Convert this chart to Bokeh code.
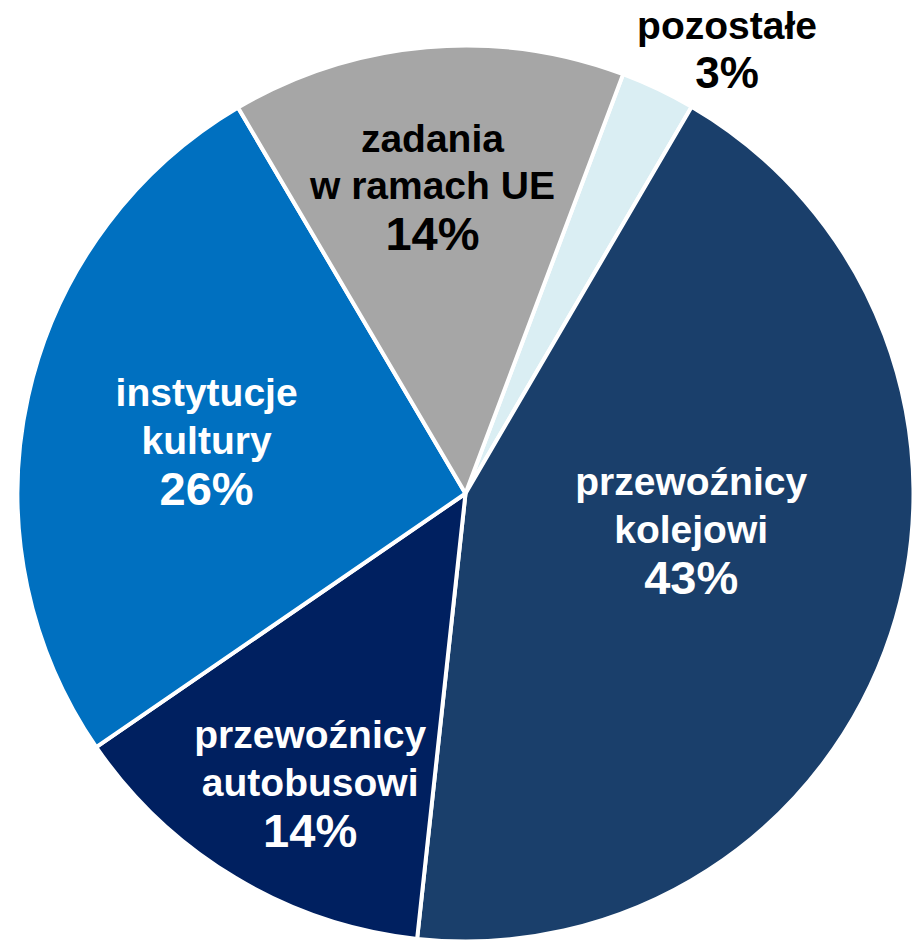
import numpy as np
from bokeh.plotting import figure
from bokeh.models import ColumnDataSource, Range1d
from bokeh.core.properties import value
from bokeh.embed import file_html
from bokeh.resources import INLINE

# ---- data (clockwise from the top) ----
names = ["pozostałe", "przewoźnicy\nkolejowi", "przewoźnicy\nautobusowi",
         "instytucje\nkultury", "zadania\nw ramach UE"]
shares = [2.7, 43.3, 13.7, 26.1, 14.2]
pct_labels = ["3%", "43%", "14%", "26%", "14%"]
colors = ["#DAEEF3", "#1A3F6B", "#002060", "#0070C0", "#A6A6A6"]
text_colors = ["#000000", "#FFFFFF", "#FFFFFF", "#FFFFFF", "#000000"]

# ---- layout ----
W, H = 912, 940
cx, cy = 465, H - 493
R = 448
start_deg = 20.6  # clockwise from 12 o'clock
name_px = 39
line_px = 46
pct_px = [44, 47, 47, 47, 47]
label_r = [536, 226, 307, 270, 333]
label_theta = [29.2, 93.0, 210.4, 286.5, 354.3]

vals = np.array(shares, dtype=float)
frac = vals / vals.sum()
cum = np.concatenate([[0], np.cumsum(frac)])
theta_start = start_deg + 360 * cum[:-1]
theta_end = start_deg + 360 * cum[1:]
start_angle = np.radians(90 - theta_start)
end_angle = np.radians(90 - theta_end)

src = ColumnDataSource(dict(start=start_angle, end=end_angle, color=colors))

p = figure(width=W, height=H, output_backend="svg", toolbar_location=None,
           x_range=Range1d(0, W), y_range=Range1d(0, H), min_border=0)
p.axis.visible = False
p.grid.visible = False
p.outline_line_color = None
p.background_fill_color = "white"

p.wedge(x=cx, y=cy, radius=R, start_angle="start", end_angle="end",
        direction="clock", fill_color="color", line_color="white",
        line_width=4, source=src)

lt = np.radians(label_theta)
lx = cx + np.array(label_r) * np.sin(lt)
ly = cy + np.array(label_r) * np.cos(lt)
n_lines = np.array([n.count("\n") + 1 for n in names])
py = ly - (n_lines * line_px / 2 + np.array(pct_px) * 0.55)

nsrc = ColumnDataSource(dict(x=lx, y=ly, text=names, tc=text_colors))
p.text(x="x", y="y", text="text", source=nsrc, text_align="center",
       text_baseline="middle", text_font=value("Liberation Sans"),
       text_font_style="bold", text_font_size=f"{name_px}px", text_color="tc",
       text_line_height=line_px / name_px * 0.94)

psrc = ColumnDataSource(dict(x=lx, y=py, text=pct_labels, tc=text_colors,
                             fs=[f"{s}px" for s in pct_px]))
p.text(x="x", y="y", text="text", source=psrc, text_align="center",
       text_baseline="middle", text_font=value("Liberation Sans"),
       text_font_style="bold", text_font_size="fs", text_color="tc")

open("out.html", "w").write(file_html(p, INLINE))
